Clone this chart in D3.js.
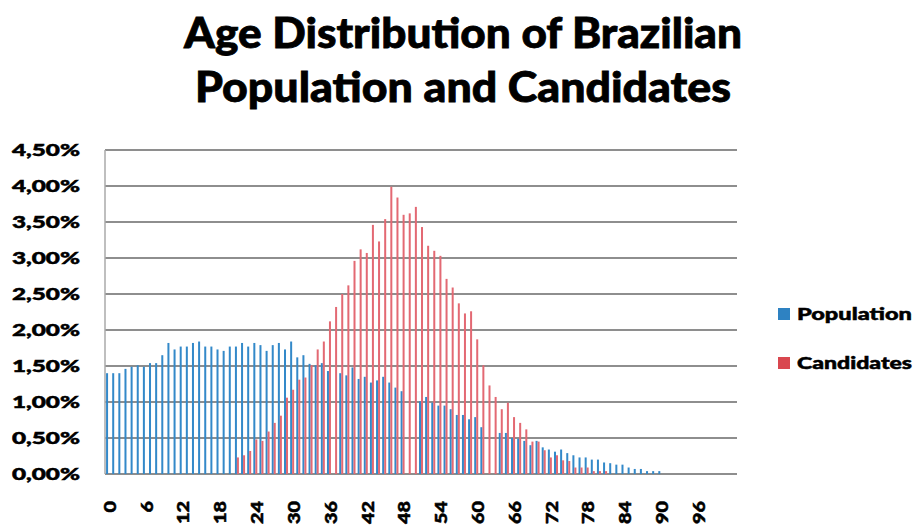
<!DOCTYPE html>
<html>
<head>
<meta charset="utf-8">
<script src="https://cdn.jsdelivr.net/npm/d3@7"></script>
<style>
  html, body { margin: 0; padding: 0; background: #fff; }
  svg { display: block; }
  text { font-family: "Lato", "Liberation Sans", Arial, sans-serif; font-weight: 900; fill: #000; stroke: #000; stroke-width: 0.5px; }
</style>
</head>
<body>
<svg id="chart" width="917" height="525"></svg>
<script>
// ---- Data ----
const ages = d3.range(0, 103);
const seriesNames = ["Population", "Candidates"];
const titleLines = ["Age Distribution of Brazilian", "Population and Candidates"];

// Population share by age (%), null where no bar is visible
const population = [
  1.40, 1.40, 1.40, 1.46, 1.49, 1.51, 1.49, 1.54, 1.54, 1.65,
  1.82, 1.73, 1.77, 1.77, 1.82, 1.84, 1.77, 1.77, 1.73, 1.71,
  1.77, 1.77, 1.82, 1.77, 1.82, 1.79, 1.71, 1.79, 1.82, 1.73,
  1.84, 1.62, 1.65, 1.53, 1.51, 1.54, 1.43, null, 1.40, 1.37,
  1.48, 1.32, 1.35, 1.27, 1.30, 1.35, 1.27, 1.20, 1.15, null,
  null, 1.01, 1.07, 0.99, 0.95, 0.95, 0.90, 0.82, 0.82, 0.76,
  0.79, 0.65, null, null, 0.57, 0.57, 0.50, 0.49, 0.46, 0.40,
  0.46, 0.37, 0.34, 0.31, 0.34, 0.29, 0.26, 0.23, 0.23, 0.20,
  0.20, 0.16, 0.15, 0.13, 0.13, 0.09, 0.07, 0.07, 0.04, 0.04,
  0.04, null, null, null, null, null, null, null, null, null,
  null, null, null
];

// Candidates share by age (%)
const candidates = [
  null, null, null, null, null, null, null, null, null, null,
  null, null, null, null, null, null, null, null, null, null,
  null, 0.23, 0.26, 0.32, 0.48, 0.46, 0.59, 0.71, 0.81, 1.06,
  1.17, 1.31, 1.34, 1.51, 1.73, 1.84, 2.12, 2.32, 2.50, 2.62,
  2.96, 3.12, 3.07, 3.46, 3.23, 3.54, 3.99, 3.84, 3.60, 3.62,
  3.71, 3.43, 3.17, 3.10, 3.03, 2.71, 2.59, 2.37, 2.23, 2.26,
  1.87, 1.51, 1.23, 1.07, 0.90, 0.99, 0.79, 0.71, 0.62, 0.45,
  0.45, 0.33, 0.23, 0.26, 0.19, 0.18, 0.09, 0.09, 0.09, 0.04,
  0.04, 0.04, null, null, null, null, null, null, null, null,
  null, null, null, null, null, null, null, null, null, null,
  null, null, null
];

const yTickValues = [0, 0.5, 1, 1.5, 2, 2.5, 3, 3.5, 4, 4.5];
const yTickLabels = ["0,00%", "0,50%", "1,00%", "1,50%", "2,00%", "2,50%", "3,00%", "3,50%", "4,00%", "4,50%"];
const xTickLabels = ["0", "6", "12", "18", "24", "30", "36", "42", "48", "54", "60", "66", "72", "78", "84", "90", "96"];

const colors = { Population: "#3389c9", Candidates: "#e36973" };
const legendColors = { Population: "#2e82c2", Candidates: "#d9474f" };

// ---- Layout ----
const svg = d3.select("#chart");
const plot = { left: 105, right: 737, top: 150, bottom: 474 };

const x0 = d3.scaleBand().domain(ages).range([plot.left, plot.right]).padding(0);
const x1 = d3.scaleBand().domain(seriesNames).range([0, x0.bandwidth()]).paddingInner(0).paddingOuter(0.53);
const y = d3.scaleLinear().domain([0, 4.5]).range([plot.bottom, plot.top]);

// Title
svg.selectAll("text.title").data(titleLines).enter().append("text")
  .attr("class", "title")
  .attr("x", 463)
  .attr("y", (d, i) => 48 + i * 54)
  .attr("text-anchor", "middle")
  .attr("font-size", 42)
  .attr("textLength", (d, i) => i === 0 ? 558 : 536)
  .attr("lengthAdjust", "spacingAndGlyphs")
  .style("stroke-width", "0.8px")
  .text(d => d);

// Gridlines
svg.append("g").selectAll("line").data(yTickValues).enter().append("line")
  .attr("x1", plot.left).attr("x2", plot.right)
  .attr("y1", d => y(d)).attr("y2", d => y(d))
  .attr("stroke", "#8e8e8e").attr("stroke-width", 1.8);

// Left axis line
svg.append("line")
  .attr("x1", plot.left).attr("x2", plot.left)
  .attr("y1", y(4.5)).attr("y2", y(0))
  .attr("stroke", "#aaaaaa").attr("stroke-width", 1.5);

// Y labels
svg.append("g").selectAll("text").data(yTickValues).enter().append("text")
  .attr("x", 80)
  .attr("y", d => y(d))
  .attr("dy", "0.36em")
  .attr("text-anchor", "end")
  .attr("font-size", 17)
  .attr("textLength", 68)
  .attr("lengthAdjust", "spacingAndGlyphs")
  .text((d, i) => yTickLabels[i]);

// Bars
const seriesData = { Population: population, Candidates: candidates };
seriesNames.forEach(name => {
  const vals = seriesData[name];
  svg.append("g").selectAll("rect")
    .data(ages.filter(a => vals[a] != null))
    .enter().append("rect")
    .attr("x", a => x0(a) + x1(name))
    .attr("width", x1.bandwidth())
    .attr("y", a => y(vals[a]))
    .attr("height", a => y(0) - y(vals[a]))
    .attr("fill", colors[name]);
});

// X labels (rotated)
svg.append("g").selectAll("text").data(xTickLabels).enter().append("text")
  .attr("transform", d => `translate(${x0(+d) + x0.bandwidth() / 2 + 2},501) rotate(-90)`)
  .attr("text-anchor", "end")
  .attr("dy", "0.36em")
  .attr("font-size", 16)
  .attr("textLength", d => d.length * 11.5)
  .attr("lengthAdjust", "spacingAndGlyphs")
  .text(d => d);

// Legend
const legend = svg.append("g").selectAll("g").data(seriesNames).enter().append("g")
  .attr("transform", (d, i) => `translate(778,${308 + i * 49})`);
legend.append("rect").attr("width", 12).attr("height", 12).attr("fill", d => legendColors[d]);
legend.append("text")
  .attr("x", 19).attr("y", 6).attr("dy", "0.36em")
  .attr("font-size", 17)
  .attr("textLength", 115)
  .attr("lengthAdjust", "spacingAndGlyphs")
  .text(d => d);
</script>
</body>
</html>
